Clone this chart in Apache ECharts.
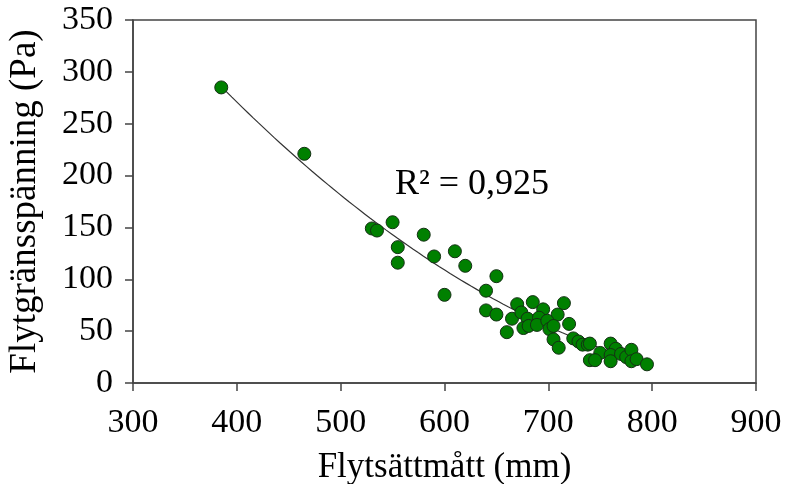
<!DOCTYPE html>
<html>
<head>
<meta charset="utf-8">
<script src="https://cdn.jsdelivr.net/npm/echarts@6/dist/echarts.min.js"></script>
<style>html,body{margin:0;padding:0;background:#fff}#c{width:788px;height:484px}</style>
</head>
<body>
<div id="c"></div>
<script>
var xValues = [385,465,530,535,550,555,555,580,590,610,620,600,650,640,640,650,665,660,670,685,695,715,709,674,680,676,681,691,689,699,701,705,720,705,710,724,729,733,738,740,750,740,745,760,765,760,760,770,775,780,780,785,795];
var yValues = [285,221,149,147,155,131,116,143,122,127,113,85,103,89,70,66,62,49,76,78,71,77,66,68,62,53,55,63,56,60,52,55,57,42,34,43,40,37,37,38,29,22,22,38,33,27,21,28,25,32,21,23,18];
var xTicks = [300,400,500,600,700,800,900];
var yTicks = [0,50,100,150,200,250,300,350];
var xTitle = 'Flytsättmått (mm)';
var yTitle = 'Flytgränsspänning (Pa)';
var r2Text = 'R² = 0,925';

// quadratic least-squares trendline from the data
function quadFit(xs, ys) {
  var n = xs.length, m = 600;
  var S = [0,0,0,0,0], T = [0,0,0];
  for (var i = 0; i < n; i++) {
    var u = xs[i] - m, p = 1;
    for (var k = 0; k < 5; k++) { S[k] += p; if (k < 3) T[k] += p * ys[i]; p *= u; }
  }
  var A = [[S[0],S[1],S[2],T[0]],[S[1],S[2],S[3],T[1]],[S[2],S[3],S[4],T[2]]];
  for (var c = 0; c < 3; c++) {
    for (var r = c + 1; r < 3; r++) {
      var f = A[r][c] / A[c][c];
      for (var k2 = c; k2 < 4; k2++) A[r][k2] -= f * A[c][k2];
    }
  }
  var b = [0,0,0];
  for (var r2 = 2; r2 >= 0; r2--) {
    var s = A[r2][3];
    for (var k3 = r2 + 1; k3 < 3; k3++) s -= A[r2][k3] * b[k3];
    b[r2] = s / A[r2][r2];
  }
  return function (x) { var u = x - m; return b[0] + b[1] * u + b[2] * u * u; };
}
var fit = quadFit(xValues, yValues);
var xmin = Math.min.apply(null, xValues), xmax = Math.max.apply(null, xValues);
var trend = [];
for (var i = 0; i <= 80; i++) { var x = xmin + (xmax - xmin) * i / 80; trend.push([x, fit(x)]); }

var pts = xValues.map(function (x, i) { return [x, yValues[i]]; });
var font = '"Liberation Serif", "Times New Roman", serif';
var chart = echarts.init(document.getElementById('c'));
chart.setOption({
  animation: false,
  backgroundColor: '#fff',
  grid: { left: 133, right: 32, top: 20, bottom: 101, show: true, borderColor: '#444', borderWidth: 1.5,
          containLabel: false, outerBoundsMode: 'none' },
  title: { text: r2Text, left: 390, top: 162, textStyle: { fontFamily: font, fontSize: 36, fontWeight: 'normal', color: '#000' } },
  xAxis: {
    type: 'value', min: xTicks[0], max: xTicks[xTicks.length - 1], interval: 100,
    name: xTitle, nameLocation: 'middle', nameGap: 67,
    nameTextStyle: { fontFamily: font, fontSize: 35, color: '#000' },
    axisLine: { lineStyle: { color: '#444', width: 1.5 } },
    axisTick: { show: true, inside: false, length: 8, lineStyle: { color: '#444', width: 1.5 } },
    axisLabel: { fontFamily: font, fontSize: 34, color: '#000', margin: 23 },
    splitLine: { show: false }
  },
  yAxis: {
    type: 'value', min: yTicks[0], max: yTicks[yTicks.length - 1], interval: 50,
    name: yTitle, nameLocation: 'middle', nameGap: 89, nameRotate: 90,
    nameTextStyle: { fontFamily: font, fontSize: 37, color: '#000' },
    axisLine: { lineStyle: { color: '#444', width: 1.5 } },
    axisTick: { show: true, inside: false, length: 8, lineStyle: { color: '#444', width: 1.5 } },
    axisLabel: { fontFamily: font, fontSize: 34, color: '#000', margin: 20 },
    splitLine: { show: false }
  },
  series: [
    { type: 'line', data: trend, showSymbol: false, smooth: false, lineStyle: { color: '#333', width: 1.2 }, z: 1 },
    { type: 'scatter', data: pts, symbol: 'circle', symbolSize: 13,
      itemStyle: { color: '#008000', borderColor: '#143014', borderWidth: 1, opacity: 1 }, z: 2 }
  ]
});
</script>
</body>
</html>
